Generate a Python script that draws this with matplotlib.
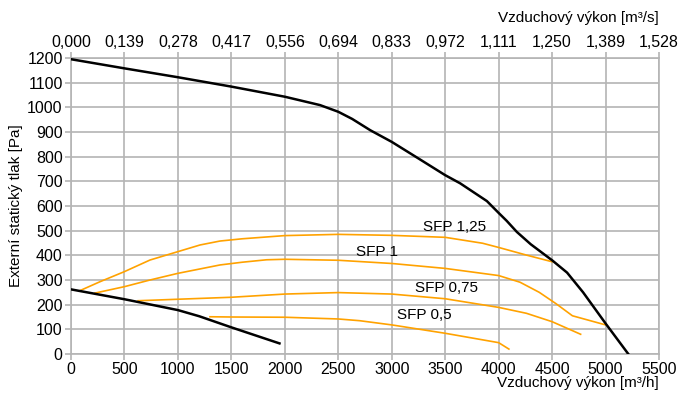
import matplotlib.pyplot as plt
import numpy as np

plt.rcParams['font.family'] = ['Liberation Sans', 'DejaVu Sans']

# krivky ventilatoru (m3/h, Pa)
max_x = [0, 500, 1000, 1500, 2000, 2330, 2500, 2630, 2800, 3000, 3260, 3500,
         3640, 3890, 4000, 4075, 4170, 4300, 4500, 4640, 4790, 5000, 5213]
max_p = [1195, 1158, 1122, 1084, 1043, 1009, 982, 953, 907, 860, 790, 725,
         692, 620, 572, 540, 495, 445, 380, 330, 250, 124, 0]

min_x = [0, 500, 1000, 1200, 1500, 1950]
min_p = [262, 222, 178, 153, 108, 43]

# SFP krivky
sfp125_x = [84, 271, 500, 739, 1000, 1207, 1394, 1600, 2000, 2500, 3000, 3500,
            3850, 4000, 4260, 4500]
sfp125_p = [257, 293, 334, 381, 415, 442, 458, 467, 480, 485, 481, 473,
            449, 432, 401, 374]

sfp1_x = [224, 500, 739, 1000, 1394, 1600, 1830, 2000, 2500, 3000, 3500, 4000,
          4200, 4380, 4540, 4690, 5000]
sfp1_p = [247, 273, 300, 327, 361, 372, 382, 384, 380, 367, 347, 318,
          291, 250, 203, 155, 118]

sfp075_x = [628, 1000, 1500, 2000, 2500, 3000, 3500, 4000, 4260, 4500, 4767]
sfp075_p = [216, 222, 230, 243, 249, 243, 224, 189, 165, 131, 80]

sfp05_x = [1300, 1500, 2000, 2500, 2700, 3000, 3500, 4000, 4096]
sfp05_p = [151, 150, 149, 142, 135, 118, 84, 46, 20]

labels = ['SFP 1,25', 'SFP 1', 'SFP 0,75', 'SFP 0,5']
label_x = [3592, 2862, 3517, 3302]
label_p = [515, 413, 268, 158]

x_ticks = np.arange(0, 5501, 500)
y_ticks = np.arange(0, 1201, 100)

fig = plt.figure(figsize=(6.8, 3.94), dpi=100)
ax = fig.add_axes([71 / 680, 1 - 354 / 394, 588 / 680, 296 / 394])

orange = '#ffa200'
grid_c = '#b4b4b4'
for xs, ps in [(sfp125_x, sfp125_p), (sfp1_x, sfp1_p), (sfp075_x, sfp075_p), (sfp05_x, sfp05_p)]:
    ax.plot(xs, ps, color=orange, lw=1.2, zorder=3)
ax.plot(max_x, max_p, color='black', lw=1.8, zorder=4)
ax.plot(min_x, min_p, color='black', lw=1.8, zorder=4)

for t, x, p in zip(labels, label_x, label_p):
    ax.text(x, p, t, fontsize=11, ha='center', va='center', zorder=5)

ax.set_xlim(0, 5500)
ax.set_ylim(0, 1200)
ax.set_xticks(x_ticks)
ax.set_yticks(y_ticks)
ax.grid(True, color=grid_c, lw=1.2)
ax.set_axisbelow(True)
for s in ax.spines.values():
    s.set_color(grid_c)
    s.set_linewidth(1.2)
ax.tick_params(labelsize=11.5, color=grid_c, length=4, width=1.2, pad=2)
ax.set_xlabel('Vzduchový výkon [m³/h]', fontsize=11)
ax.xaxis.set_label_coords(1, -29 / 296)
ax.xaxis.label.set_horizontalalignment('right')
ax.xaxis.label.set_verticalalignment('center')
ax.set_ylabel('Externí statický tlak [Pa]', fontsize=11, labelpad=3)

ax2 = ax.twiny()
ax2.set_xlim(ax.get_xlim())
ax2.set_xticks(x_ticks)
ax2.set_xticklabels([f'{v / 3600:.3f}'.replace('.', ',') for v in x_ticks])
ax2.tick_params(labelsize=11.5, color=grid_c, length=4, width=1.2, pad=2)
for s in ax2.spines.values():
    s.set_visible(False)
ax2.set_xlabel('Vzduchový výkon [m³/s]', fontsize=11)
ax2.xaxis.set_label_coords(1, 1 + 40 / 296)
ax2.xaxis.label.set_horizontalalignment('right')
ax2.xaxis.label.set_verticalalignment('center')

fig.savefig('out.png', dpi=100)
